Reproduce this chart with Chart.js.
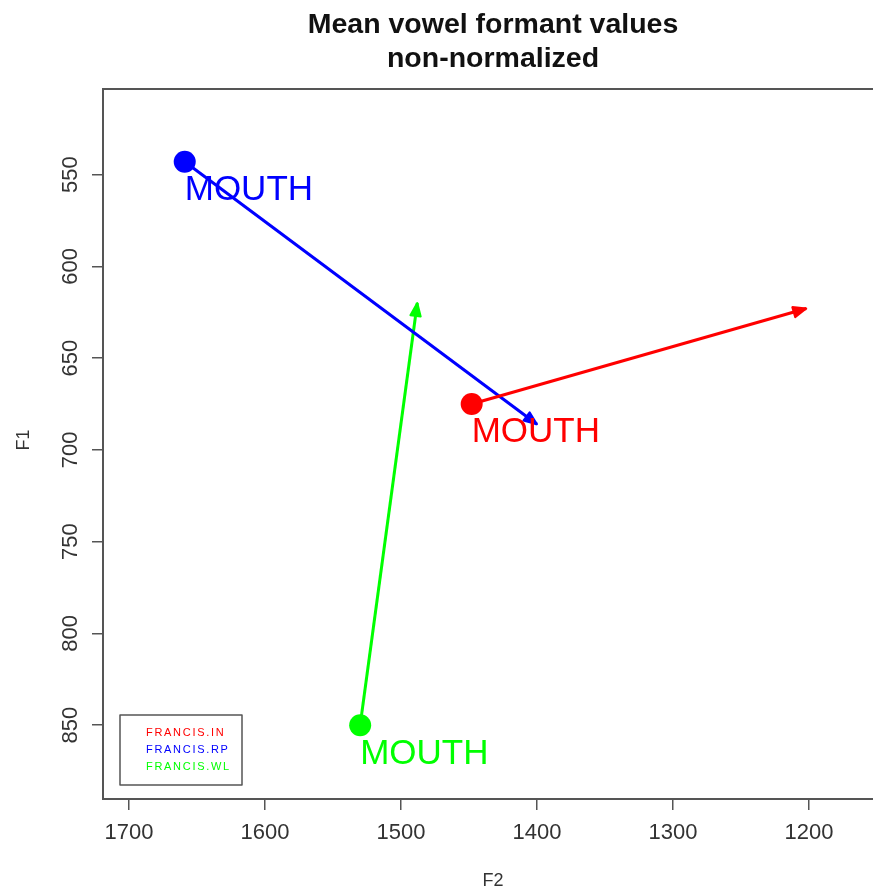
<!DOCTYPE html>
<html>
<head>
<meta charset="utf-8">
<title>Mean vowel formant values</title>
<script src="https://cdn.jsdelivr.net/npm/chart.js@4.4.1/dist/chart.umd.min.js"></script>
<style>
  html, body { margin: 0; padding: 0; background: #fff; overflow: hidden; }
  #wrap { width: 884px; height: 889px; }
</style>
</head>
<body>
<div id="wrap"><canvas id="grafico" width="884" height="889"></canvas></div>
<script>
// dados (F2 / F1 em Hz)
const speakers = ["FRANCIS.IN", "FRANCIS.RP", "FRANCIS.WL"];
const vowel = "MOUTH";
const colors = ["#ff0000", "#0000ff", "#00ff00"];
const f2Start = [1448, 1659, 1530];
const f1Start = [675, 543, 850];
const f2End = [1202, 1400, 1488];
const f1End = [623, 686, 620];
const xTicks = [1700, 1600, 1500, 1400, 1300, 1200];
const yTicks = [550, 600, 650, 700, 750, 800, 850];
const titleLines = ["Mean vowel formant values", "non-normalized"];

const FONT = "'Liberation Sans', Arial, Helvetica, sans-serif";

const datasets = speakers.map((nome, i) => ({
  label: nome,
  data: [
    { x: f2Start[i], y: f1Start[i] },
    { x: f2End[i], y: f1End[i] }
  ],
  showLine: true,
  borderColor: colors[i],
  borderWidth: 3,
  backgroundColor: colors[i],
  pointRadius: [11, 0],
  pointHoverRadius: [11, 0],
  pointBorderWidth: 0,
  pointBackgroundColor: colors[i]
}));

// ============================
// desenhos extras: caixa, títulos, setas, rótulos, legenda
// ============================
const extras = {
  id: "extras",
  afterDraw(chart) {
    const ctx = chart.ctx;
    const area = chart.chartArea;
    const xs = chart.scales.x;
    const ys = chart.scales.y;

    ctx.save();

    // caixa do gráfico (o lado direito fica fora da imagem)
    ctx.strokeStyle = "#555";
    ctx.lineWidth = 2;
    ctx.beginPath();
    ctx.moveTo(chart.width, area.top);
    ctx.lineTo(area.left, area.top);
    ctx.lineTo(area.left, area.bottom);
    ctx.lineTo(chart.width, area.bottom);
    ctx.stroke();

    // título
    ctx.fillStyle = "#111";
    ctx.textAlign = "center";
    ctx.textBaseline = "alphabetic";
    ctx.font = "bold 28.5px " + FONT;
    ctx.fillText(titleLines[0], 493, 33);
    ctx.fillText(titleLines[1], 493, 67);

    // títulos dos eixos
    ctx.fillStyle = "#333";
    ctx.font = "18px " + FONT;
    ctx.fillText("F2", 493, 886);
    ctx.save();
    ctx.translate(29, 440);
    ctx.rotate(-Math.PI / 2);
    ctx.fillText("F1", 0, 0);
    ctx.restore();

    // rótulos do eixo y (rodados, estilo R)
    ctx.font = "22px " + FONT;
    ctx.textBaseline = "middle";
    yTicks.forEach(v => {
      ctx.save();
      ctx.translate(71, ys.getPixelForValue(v));
      ctx.rotate(-Math.PI / 2);
      ctx.fillText(String(v), 0, 0);
      ctx.restore();
    });

    // pontas das setas
    chart.data.datasets.forEach((ds, i) => {
      const pts = chart.getDatasetMeta(i).data;
      const p0 = pts[0], p1 = pts[1];
      const ang = Math.atan2(p1.y - p0.y, p1.x - p0.x);
      const len = 14, half = 0.38;
      ctx.fillStyle = colors[i];
      ctx.strokeStyle = colors[i];
      ctx.lineWidth = 2;
      ctx.lineJoin = "round";
      ctx.beginPath();
      ctx.moveTo(p1.x, p1.y);
      ctx.lineTo(p1.x - len * Math.cos(ang - half), p1.y - len * Math.sin(ang - half));
      ctx.lineTo(p1.x - len * Math.cos(ang + half), p1.y - len * Math.sin(ang + half));
      ctx.closePath();
      ctx.fill();
      ctx.stroke();
    });

    // rótulo da vogal junto ao ponto inicial
    ctx.font = "35px " + FONT;
    ctx.textAlign = "left";
    ctx.textBaseline = "alphabetic";
    speakers.forEach((_, i) => {
      ctx.fillStyle = colors[i];
      const px = xs.getPixelForValue(f2Start[i]);
      const py = ys.getPixelForValue(f1Start[i]);
      ctx.fillText(vowel, px, py + 38.5);
    });

    // legenda
    ctx.strokeStyle = "#555";
    ctx.lineWidth = 1.5;
    ctx.strokeRect(120, 715, 122, 70);
    ctx.font = "11px " + FONT;
    ctx.textBaseline = "middle";
    if ("letterSpacing" in ctx) ctx.letterSpacing = "1.7px";
    speakers.forEach((nome, i) => {
      ctx.fillStyle = colors[i];
      ctx.fillText(nome, 146, 733 + i * 17);
    });

    ctx.restore();
  }
};

new Chart(document.getElementById("grafico"), {
  type: "scatter",
  data: { datasets },
  plugins: [extras],
  options: {
    responsive: false,
    animation: false,
    events: [],
    layout: { padding: { top: 89, right: 1, left: 0, bottom: 0 } },
    plugins: {
      legend: { display: false },
      title: { display: false },
      tooltip: { enabled: false }
    },
    scales: {
      x: {
        type: "linear",
        reverse: true,
        min: 1152.9,
        max: 1719.1,
        afterBuildTicks: s => { s.ticks = xTicks.map(v => ({ value: v })); },
        afterFit: s => { s.height = 90; s.paddingLeft = 0; s.paddingRight = 0; },
        grid: { drawOnChartArea: false, tickLength: 11, color: "#555", lineWidth: 1.5 },
        border: { display: true, color: "#555", width: 2 },
        ticks: {
          autoSkip: false,
          maxRotation: 0,
          padding: 10,
          color: "#333",
          font: { family: FONT, size: 22 },
          callback: v => String(v)
        }
      },
      y: {
        type: "linear",
        reverse: true,
        min: 503.4,
        max: 890.2,
        afterBuildTicks: s => { s.ticks = yTicks.map(v => ({ value: v })); },
        afterFit: s => { s.width = 103; s.paddingTop = 0; s.paddingBottom = 0; },
        grid: { drawOnChartArea: false, tickLength: 11, color: "#555", lineWidth: 1.5 },
        border: { display: true, color: "#555", width: 2 },
        ticks: { display: false }
      }
    }
  }
});
</script>
</body>
</html>
